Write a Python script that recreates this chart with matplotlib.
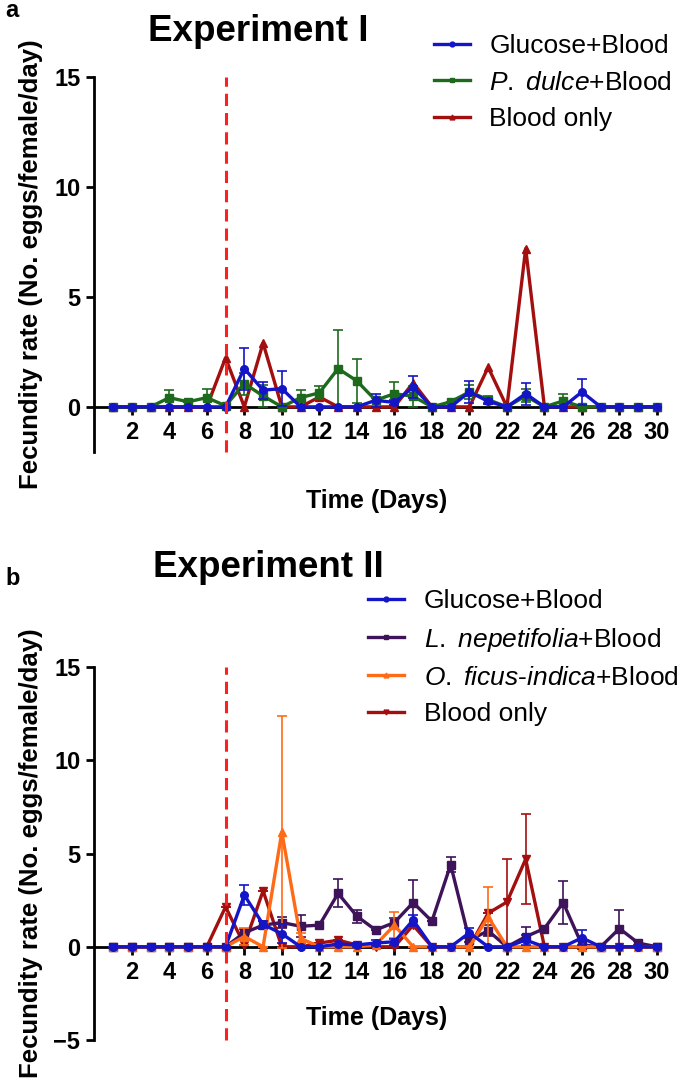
import matplotlib
matplotlib.use("Agg")
from matplotlib import pyplot as plt
from matplotlib.lines import Line2D

plt.rcParams['font.family'] = ['Liberation Sans', 'DejaVu Sans']
plt.rcParams['mathtext.fontset'] = 'custom'
plt.rcParams['mathtext.rm'] = 'Liberation Sans'
plt.rcParams['mathtext.it'] = 'Liberation Sans:italic'

days = list(range(1, 31))
xticks = list(range(2, 31, 2))

# Experiment I
glucose_a = [0, 0, 0, 0, 0, 0, 0, 1.74, 0.76, 0.83, 0, 0, 0, 0, 0.3, 0.2, 0.9, 0, 0, 0.68, 0.25, 0, 0.6, 0, 0, 0.68, 0, 0, 0, 0]
glucose_a_err = [0, 0, 0, 0, 0, 0, 0, 0.95, 0.38, 0.8, 0, 0, 0, 0, 0.3, 0.1, 0.5, 0, 0, 0.5, 0.1, 0, 0.5, 0, 0, 0.6, 0, 0, 0, 0]
dulce_a = [0, 0, 0, 0.42, 0.23, 0.42, 0.05, 1.06, 0.5, 0, 0.42, 0.64, 1.74, 1.18, 0.3, 0.6, 0.48, 0, 0.23, 0.68, 0.33, 0, 0.5, 0, 0.27, 0, 0, 0, 0, 0]
dulce_a_err = [0, 0, 0, 0.36, 0, 0.4, 0, 0.5, 0.5, 0, 0.36, 0.3, 1.74, 1.0, 0.1, 0.53, 0.48, 0, 0, 0.3, 0.15, 0, 0.3, 0, 0.3, 0, 0, 0, 0, 0]
blood_a = [0, 0, 0, 0, 0, 0, 2.23, 0, 2.9, 0, 0, 0.45, 0, 0, 0, 0, 1.1, 0, 0, 0, 1.8, 0, 7.2, 0, 0, 0, 0, 0, 0, 0]

# Experiment II
glucose_b = [0, 0, 0, 0, 0, 0, 0, 2.77, 1.2, 0.7, 0, 0, 0.15, 0.1, 0.2, 0.27, 1.43, 0, 0, 0.75, 0, 0, 0.36, 0, 0, 0.48, 0, 0, 0, 0]
glucose_b_err = [0, 0, 0, 0, 0, 0, 0, 0.54, 0.2, 0.5, 0, 0, 0, 0.1, 0.15, 0.15, 0.3, 0, 0, 0.25, 0, 0, 0.25, 0, 0, 0.4, 0, 0, 0, 0]
nepet_b = [0, 0, 0, 0, 0, 0, 0, 0.75, 1.16, 1.3, 1.1, 1.16, 2.86, 1.64, 0.9, 1.3, 2.37, 1.37, 4.4, 0.35, 0.86, 0, 0.54, 0.98, 2.37, 0.1, 0, 0.98, 0.2, 0]
nepet_b_err = [0, 0, 0, 0, 0, 0, 0, 0.2, 0.2, 0.3, 0.6, 0, 0.75, 0.35, 0, 0.25, 1.2, 0, 0.4, 0.1, 0.3, 0, 0.5, 0, 1.16, 0.2, 0, 1.0, 0.1, 0]
ficus_b = [0, 0, 0, 0, 0, 0, 0, 0.55, 0, 6.15, 0.45, 0, 0, 0, 0.1, 1.16, 0, 0, 0, 0, 1.6, 0, 0, 0, 0, 0, 0, 0, 0, 0]
ficus_b_err = [0, 0, 0, 0, 0, 0, 0, 0.45, 0, 6.2, 0.3, 0, 0, 0, 0, 0.7, 0, 0, 0, 0, 1.6, 0, 0, 0, 0, 0, 0, 0, 0, 0]
blood_b = [0, 0, 0, 0, 0, 0, 2.14, 0.1, 3.0, 0, 0, 0.2, 0.35, 0.1, 0, 0, 1.16, 0, 0, 0, 1.8, 2.4, 4.7, 0, 0, 0, 0, 0, 0, 0]
blood_b_err = [0, 0, 0, 0, 0, 0, 0, 0, 0, 0, 0, 0, 0, 0, 0, 0, 0, 0, 0, 0, 0, 2.3, 2.4, 0, 0, 0, 0, 0, 0, 0]

BLUE = '#1414c8'
GREEN = '#1d6a1d'
RED = '#a30f0f'
PURPLE = '#3e135a'
ORANGE = '#ff6a16'

fig = plt.figure(figsize=(6.85, 10.88), dpi=100)
ax_a = fig.add_axes([0.1376, 0.5846, 0.8256, 0.3446])
ax_b = fig.add_axes([0.1376, 0.0441, 0.8256, 0.3428])


def series(ax, y, err, color, marker, z, label):
    ax.errorbar(days, y, yerr=err, color=color, lw=2.4, marker=marker, ms=5.5,
                elinewidth=1.2, capsize=3.5, capthick=1.2, zorder=z,
                clip_on=False, label=label)


def style(ax, ylim, yticks):
    ax.set_xlim(0, 30.15)
    ax.set_ylim(*ylim)
    ax.set_yticks(yticks)
    ax.set_xticks(xticks)
    for s in ['top', 'right']:
        ax.spines[s].set_visible(False)
    ax.spines['bottom'].set_position(('data', 0))
    ax.spines['bottom'].set_linewidth(2)
    ax.spines['left'].set_linewidth(2)
    ax.spines['bottom'].set_zorder(1)
    ax.tick_params(direction='out', length=6, width=2, labelsize=17, pad=4)
    for t in ax.get_xticklabels() + ax.get_yticklabels():
        t.set_fontweight('bold')
    ax.axvline(7, color='#ff1f1f', ls=(0, (4, 2.3)), lw=2.2, zorder=6, clip_on=False)
    ax.set_ylabel('Fecundity rate (No. eggs/female/day)', fontsize=18.5, fontweight='bold')
    ax.set_xlabel('Time (Days)', fontsize=18, fontweight='bold')


lbl_dulce = r'$\it{P.}$ $\it{dulce}$+Blood'
lbl_nepet = r'$\it{L.}$ $\it{nepetifolia}$+Blood'
lbl_ficus = r'$\it{O.}$ $\it{ficus}$-$\it{indica}$+Blood'

# panel a
series(ax_a, blood_a, None, RED, '^', 3, 'Blood only')
series(ax_a, dulce_a, dulce_a_err, GREEN, 's', 4, lbl_dulce)
series(ax_a, glucose_a, glucose_a_err, BLUE, 'o', 5, 'Glucose+Blood')
style(ax_a, (-2.05, 15), [0, 5, 10, 15])
ax_a.yaxis.set_label_coords(-0.09, 0.5)
ax_a.xaxis.set_label_coords(0.5, -0.099)

hand_a = [Line2D([], [], color=BLUE, lw=2.4, marker='o', ms=3.5),
          Line2D([], [], color=GREEN, lw=2.4, marker='s', ms=3.5),
          Line2D([], [], color=RED, lw=2.4, marker='^', ms=3.5)]
lab_a = ['Glucose+Blood', lbl_dulce, 'Blood only']
fig.legend(hand_a, lab_a, loc='upper left', bbox_to_anchor=(0.618, 0.978),
           frameon=False, fontsize=19, handlelength=1.35, handletextpad=0.75,
           labelspacing=0.46, borderaxespad=0)

# panel b
series(ax_b, blood_b, blood_b_err, RED, 'v', 2, 'Blood only')
series(ax_b, nepet_b, nepet_b_err, PURPLE, 's', 3, lbl_nepet)
series(ax_b, ficus_b, ficus_b_err, ORANGE, '^', 4, lbl_ficus)
series(ax_b, glucose_b, glucose_b_err, BLUE, 'o', 5, 'Glucose+Blood')
style(ax_b, (-5, 15), [-5, 0, 5, 10, 15])
ax_b.yaxis.set_label_coords(-0.09, 0.5)
ax_b.xaxis.set_label_coords(0.5, 0.091)

hand_b = [Line2D([], [], color=BLUE, lw=2.4, marker='o', ms=3.5),
          Line2D([], [], color=PURPLE, lw=2.4, marker='s', ms=3.5),
          Line2D([], [], color=ORANGE, lw=2.4, marker='^', ms=3.5),
          Line2D([], [], color=RED, lw=2.4, marker='v', ms=3.5)]
lab_b = ['Glucose+Blood', lbl_nepet, lbl_ficus, 'Blood only']
fig.legend(hand_b, lab_b, loc='upper left', bbox_to_anchor=(0.522, 0.468),
           frameon=False, fontsize=19, handlelength=1.35, handletextpad=0.75,
           labelspacing=0.46, borderaxespad=0)

fig.text(0.377, 0.971, 'Experiment I', fontsize=26.5, fontweight='bold', ha='center', va='center')
fig.text(0.392, 0.478, 'Experiment II', fontsize=26.5, fontweight='bold', ha='center', va='center')
fig.text(0.008, 0.99, 'a', fontsize=17, fontweight='bold', ha='left', va='center')
fig.text(0.008, 0.468, 'b', fontsize=17, fontweight='bold', ha='left', va='center')

fig.savefig('out.png', dpi=100)
